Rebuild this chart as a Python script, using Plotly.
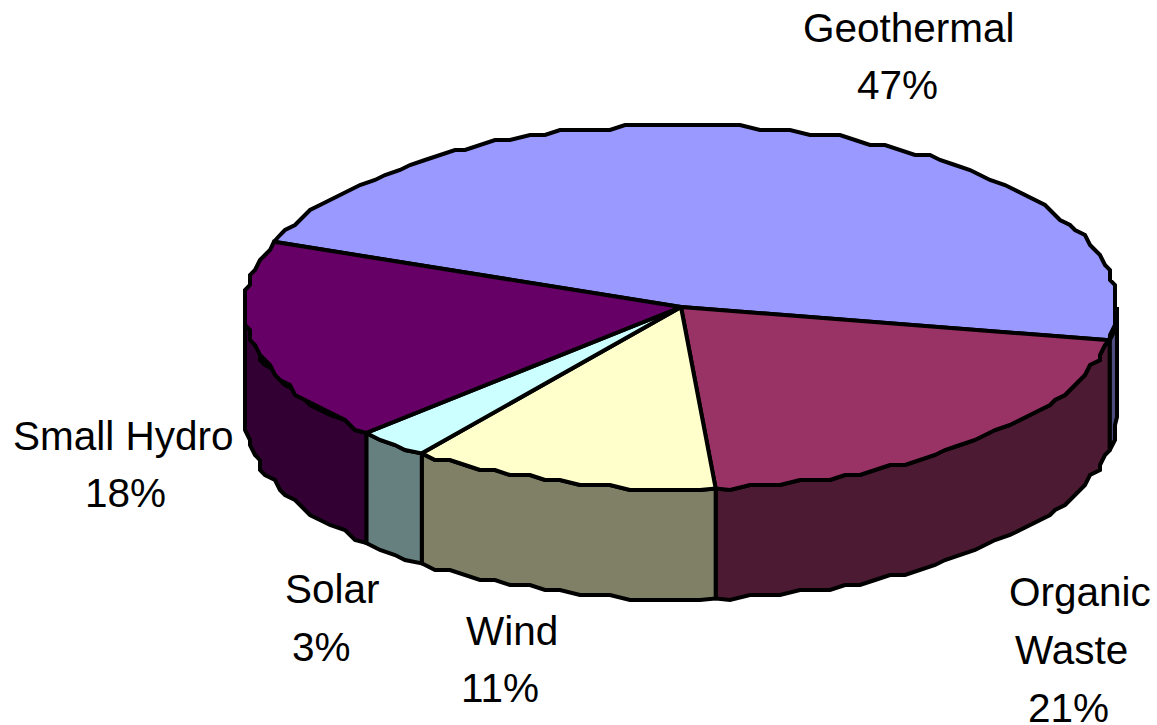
import numpy as np
import plotly.graph_objects as go

categories = ["Geothermal", "Organic Waste", "Wind", "Solar", "Small Hydro"]
values = [47.1, 20.8, 11.4, 2.7, 18.0]
top_colors = ["#9999FF", "#993366", "#FFFFCC", "#CCFFFF", "#660066"]
side_colors = ["#4D4D80", "#4D1A33", "#808066", "#668080", "#330033"]

START_ANGLE = 159.0
CX, CY, RX, RY, DEPTH = 681.0, 307.0, 436.0, 182.0, 110.0
GRID = 5.0
LINE = dict(color="black", width=4)
FONT = dict(family="Liberation Sans, Arial, sans-serif", size=40.5, color="black")


def rim(a0, a1):
    """Points on the rim, clockwise from a0 to a1, snapped like the coarse original."""
    n = max(2, int(abs(a1 - a0) / 2.2) + 1)
    t = np.radians(np.linspace(a0, a1, n))
    x = CX + RX * np.cos(t)
    y = CY - RY * np.sin(t)
    xs, ys = np.round(x / GRID) * GRID, np.round(y / GRID) * GRID
    xs[0], ys[0], xs[-1], ys[-1] = x[0], y[0], x[-1], y[-1]
    return xs, ys


fig = go.Figure()
edges = START_ANGLE - np.cumsum([0] + values) * 3.6
spans = list(zip(categories, values, edges[:-1], edges[1:], top_colors, side_colors))

# side walls: only the parts on the front half of the rim are visible
for name, v, a0, a1, _, side in spans:
    parts = []
    if a0 > 0 and a1 < 0:
        parts.append((0.0, max(a1, -180.0)))
    elif a0 <= 0:
        parts.append((a0, max(a1, -180.0)))
    for p0, p1 in parts:
        if p1 >= p0:
            continue
        xs, ys = rim(p0, p1)
        fig.add_trace(go.Scatter(
            x=np.r_[xs, xs[::-1], xs[0]], y=np.r_[ys, ys[::-1] + DEPTH, ys[0]],
            mode="lines", fill="toself", fillcolor=side, line=LINE,
            name=name, hoverinfo="name", showlegend=False))

# top face
for name, v, a0, a1, top, _ in spans:
    xs, ys = rim(a0, a1)
    fig.add_trace(go.Scatter(
        x=np.r_[CX, xs, CX], y=np.r_[CY, ys, CY],
        mode="lines", fill="toself", fillcolor=top, line=LINE,
        name=f"{name} {v:.0f}%", hoverinfo="name", showlegend=False))

label_lines = [
    ("Geothermal", 909, 28), (f"{values[0]:.0f}%", 897, 85),
    ("Organic", 1080, 592), ("Waste", 1071, 650), (f"{values[1]:.0f}%", 1068, 708),
    ("Wind", 512, 631), (f"{values[2]:.0f}%", 500, 688),
    ("Solar", 332, 589), (f"{values[3]:.0f}%", 321, 647),
    ("Small Hydro", 123, 436), (f"{values[4]:.0f}%", 125, 493),
]
for text, x, y in label_lines:
    fig.add_annotation(x=x, y=y, text=text, showarrow=False, font=FONT,
                       xanchor="center", yanchor="middle")

fig.update_layout(
    width=1157, height=725, margin=dict(l=0, r=0, t=0, b=0),
    paper_bgcolor="white", plot_bgcolor="white", showlegend=False,
    xaxis=dict(range=[0, 1157], visible=False, fixedrange=True),
    yaxis=dict(range=[725, 0], visible=False, fixedrange=True),
)
fig.write_html("out.html", config=dict(displayModeBar=False),
               post_script="document.body.style.margin='0';document.body.style.overflow='hidden';")
